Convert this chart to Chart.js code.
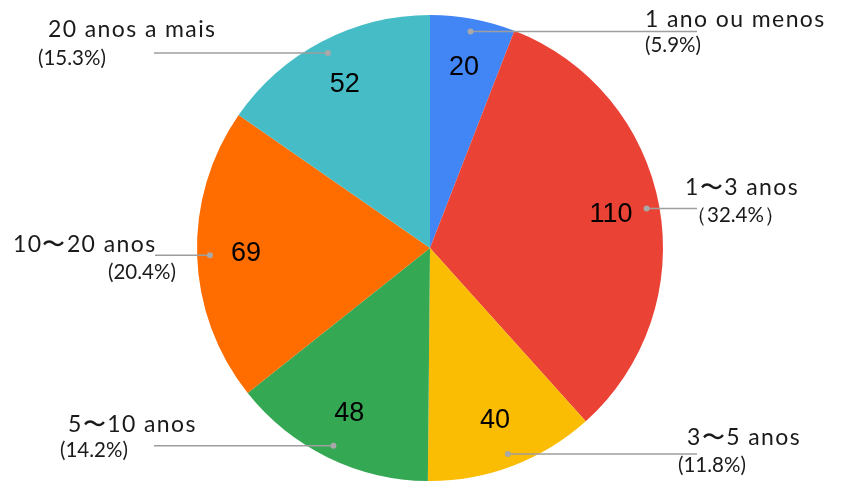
<!DOCTYPE html>
<html>
<head>
<meta charset="utf-8">
<script src="https://cdn.jsdelivr.net/npm/chart.js@4"></script>
<style>
  html,body{margin:0;padding:0;background:#fff;}
  #wrap{width:849px;height:482px;}
</style>
</head>
<body>
<div id="wrap"><canvas id="pie" width="849" height="482"></canvas></div>
<script>
// ============ DATA ============
const categories = ['1 ano ou menos', '1\u301C3 anos', '3\u301C5 anos', '5\u301C10 anos', '10\u301C20 anos', '20 anos a mais'];
const counts = [20, 110, 40, 48, 69, 52];
const percentLabels = ['(5.9%)', '\uFF0832.4%\uFF09', '(11.8%)', '(14.2%)', '(20.4%)', '(15.3%)'];
const sliceColors = ['#4285F4', '#EA4335', '#FBBC04', '#34A853', '#FF6D01', '#46BDC6'];

// where each callout goes (line end x, name line, percent line)
const callouts = [
  { endX:697, nx:645, ny:20,  px:645, py:45  },
  { endX:697, nx:685, ny:188, px:686, py:215 },
  { endX:697, nx:687, ny:438, px:678, py:465 },
  { endX:154, nx:68,  ny:425, px:60,  py:450 },
  { endX:155, nx:13,  ny:245, px:108, py:272 },
  { endX:154, nx:48,  ny:30,  px:38,  py:58  }
];

const calloutPlugin = {
  id:'callouts',
  afterDatasetsDraw(chart) {
    const ctx = chart.ctx;
    const arcs = chart.getDatasetMeta(0).data;
    ctx.save();
    arcs.forEach((arc,i)=>{
      const mid = (arc.startAngle+arc.endAngle)/2;
      const R = arc.outerRadius;
      // value inside slice
      ctx.fillStyle = '#000';
      ctx.font = '27px "Liberation Sans", Arial, sans-serif';
      ctx.textAlign = 'center'; ctx.textBaseline = 'middle';
      ctx.fillText(String(counts[i]), arc.x+Math.cos(mid)*R*0.79, arc.y+Math.sin(mid)*R*0.79);

      // leader line + dot
      const c = callouts[i];
      const dx = arc.x+Math.cos(mid)*R*0.945, dy = arc.y+Math.sin(mid)*R*0.945;
      ctx.strokeStyle = '#9e9e9e'; ctx.lineWidth = 1.5;
      ctx.beginPath(); ctx.moveTo(dx,dy); ctx.lineTo(c.endX,dy); ctx.stroke();
      ctx.fillStyle = '#a8a8a8';
      ctx.beginPath(); ctx.arc(dx,dy,3,0,Math.PI*2); ctx.fill();

      // text
      ctx.fillStyle = '#1a1a1a';
      ctx.textAlign = 'left';
      ctx.font = '23px Lato, "Noto Sans", sans-serif';
      ctx.letterSpacing = '1.4px';
      ctx.fillText(categories[i], c.nx, c.ny);
      ctx.font = '20.5px Lato, "Noto Sans", sans-serif';
      ctx.letterSpacing = '0px';
      ctx.fillText(percentLabels[i], c.px, c.py);
    });
    ctx.restore();
  }
};

new Chart(document.getElementById('pie'), {
  type:'pie',
  data:{ labels:categories, datasets:[{ data:counts, backgroundColor:sliceColors, borderWidth:0, hoverOffset:0, offset:0 }] },
  options:{
    responsive:false, animation:false,
    layout:{ padding:{ top:15, bottom:1, left:197, right:186 } },
    plugins:{ legend:{display:false}, tooltip:{enabled:false} }
  },
  plugins:[calloutPlugin]
});
</script>
</body>
</html>
